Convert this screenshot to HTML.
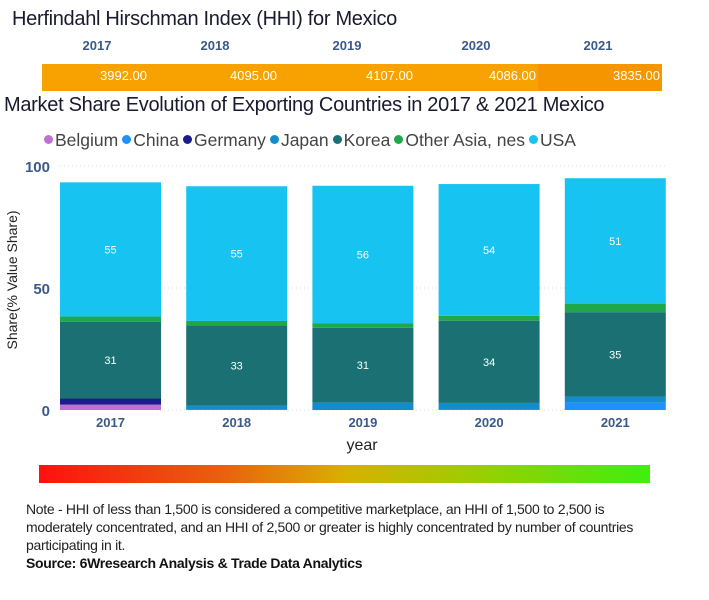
<!DOCTYPE html>
<html><head><meta charset="utf-8"><style>
body{margin:0;width:709px;height:600px;background:#fff;font-family:"Liberation Sans",sans-serif;position:relative;overflow:hidden}
.abs{position:absolute}
.t{font-size:20px;color:#1a1a2e;letter-spacing:-0.3px;white-space:nowrap}
.yr{font-size:13px;font-weight:bold;color:#3b5a8a;transform:translateX(-50%)}
.val{font-size:13px;color:#fff;transform:translateX(-100%);top:68px}
.note{font-size:14px;color:#222;left:26px;width:610px;line-height:18px;letter-spacing:-0.3px}
</style></head><body>
<div class="abs t" style="left:12px;top:8px">Herfindahl Hirschman Index (HHI) for Mexico</div>
<div id="hhi"></div>
<div class="abs" style="left:42px;top:64px;width:620px;height:27px;background:linear-gradient(90deg,#f7a200 0%,#f7a200 80%,#f59600 80%)"></div>
<div class="abs t" style="left:4px;top:94px">Market Share Evolution of Exporting Countries in 2017 &amp; 2021 Mexico</div>
<div id="legend" class="abs" style="left:44px;top:130px;font-size:17.5px;color:#444;white-space:nowrap"></div>
<svg id="chart" class="abs" style="left:0;top:150px" width="709" height="310"></svg>
<div class="abs" style="left:39px;top:465px;width:611px;height:18px;background:linear-gradient(90deg,#ff1010,#e86010 30%,#d8b000 50%,#a0cc00 70%,#40ee10)"></div>
<div class="abs note" style="top:500px">Note - HHI of less than 1,500 is considered a competitive marketplace, an HHI of 1,500 to 2,500 is moderately concentrated, and an HHI of 2,500 or greater is highly concentrated by number of countries participating in it.</div>
<div class="abs note" style="top:554px;font-weight:bold;color:#111">Source: 6Wresearch Analysis &amp; Trade Data Analytics</div>
<script>
const years=["2017","2018","2019","2020","2021"];
const hhiValues=[3992,4095,4107,4086,3835];
const series=["Belgium","China","Germany","Japan","Korea","Other Asia, nes","USA"];
const colors=["#c070d0","#1e90ff","#1c1c8c","#128ccd","#1b7073","#1fa84a","#17c3f0"];
const belgium=[2.2,0,0,0,0];
const china=[0,0.4,0,0.4,3];
const germany=[2.5,0,0,0,0];
const japan=[0,1.4,3,2.5,2.5];
const korea=[31.4,32.8,30.7,33.7,34.6];
const otherAsia=[2.2,1.9,1.9,2,3.5];
const usa=[55,55.2,56.3,54,51.4];
const labelShown=[false,false,false,false,true,false,true];
const yTicks=[0,50,100];
const ns="http://www.w3.org/2000/svg";
const hhi=document.getElementById('hhi');
const yrX=[97,215,347,476,598], valEnd=[147,277,413,536,660];
years.forEach((y,i)=>{
 const d=document.createElement('div');d.className='abs yr';d.style.left=yrX[i]+'px';d.style.top='38px';d.textContent=y;
 
 
 hhi.appendChild(d);
 const v=document.createElement('div');v.className='abs val';v.style.left=valEnd[i]+'px';v.style.zIndex=2;v.textContent=hhiValues[i].toFixed(2);
 
 
 hhi.appendChild(v);
});
const lg=document.getElementById('legend');
series.forEach((s,i)=>{
 const e=document.createElement('span');e.style.marginRight='4px';
 e.innerHTML='<span style="display:inline-block;width:9px;height:9px;border-radius:50%;background:'+colors[i]+';margin-right:2px;vertical-align:2px"></span>'+s;
 
 
 lg.appendChild(e);
});
const svg=document.getElementById('chart');
const y0=260,yScale=2.44;
const y=v=>y0-v*yScale;
const x=i=>60+i*126.2, bw=101;
function el(t,a){const e=document.createElementNS(ns,t);for(const k in a)e.setAttribute(k,a[k]);svg.appendChild(e);return e;}
yTicks.forEach(t=>{
 const g=el('line',{x1:60,x2:665,y1:y(t),y2:y(t),stroke:'#ddd','stroke-dasharray':'1,3'});
 
 
 const l=el('text',{x:50,y:y(t)+6,'text-anchor':'end','font-size':15,'font-weight':'bold',fill:'#3b5a8a'});l.textContent=t;
 
 
});
const data=[belgium,china,germany,japan,korea,otherAsia,usa];
years.forEach((yr,i)=>{
 let acc=0;
 data.forEach((arr,s)=>{
  const v=arr[i]; if(v<=0)return;
  const r=el('rect',{x:x(i),y:y(acc+v),width:bw,height:v*yScale,fill:colors[s]});
  
  
  if(labelShown[s]){
   const tx=el('text',{x:x(i)+bw/2,y:y(acc+v/2)+4,'text-anchor':'middle','font-size':11,fill:'#fff'});tx.textContent=Math.round(v);
   
   
  }
  acc+=v;
 });
 const t=el('text',{x:x(i)+bw/2,y:277,'text-anchor':'middle','font-size':13,'font-weight':'bold',fill:'#3b5a8a'});t.textContent=yr;
 
 
});
const xt=el('text',{x:362,y:300,'text-anchor':'middle','font-size':16,fill:'#222'});xt.textContent='year';


const yt=el('text',{x:0,y:0,'text-anchor':'middle','font-size':14,fill:'#222',transform:'translate(17,130) rotate(-90)'});yt.textContent='Share(% Value Share)';


</script>
</body></html>
